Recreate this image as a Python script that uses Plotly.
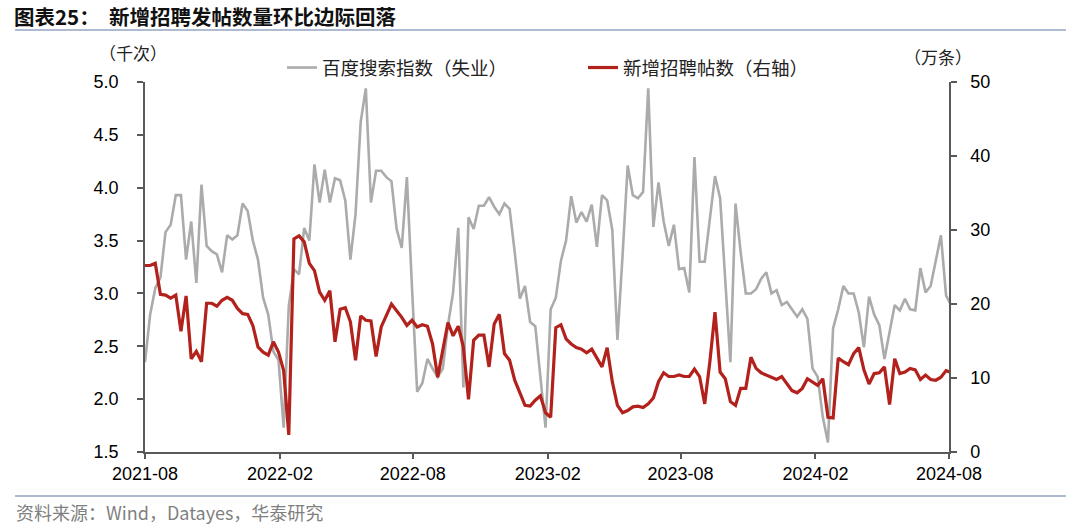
import pandas as pd
import plotly.graph_objects as go

# ---------------- data ----------------
start_date = "2021-08-01"
baidu_index = [
    2.35, 2.80, 3.05, 3.15, 3.58, 3.65, 3.93, 3.93, 3.32, 3.68,
    3.10, 4.03, 3.45, 3.40, 3.37, 3.20, 3.55, 3.51, 3.55, 3.85,
    3.78, 3.50, 3.32, 2.96, 2.80, 2.45, 2.37, 1.73, 2.88, 3.23,
    3.18, 3.62, 3.50, 4.22, 3.86, 4.17, 3.86, 4.09, 4.07, 3.88,
    3.32, 3.75, 4.62, 4.94, 3.86, 4.16, 4.16, 4.10, 4.06, 3.61,
    3.43, 4.10, 3.05, 2.07, 2.15, 2.38, 2.29, 2.21, 2.29, 2.70,
    3.01, 3.62, 2.11, 3.72, 3.61, 3.83, 3.83, 3.91, 3.82, 3.75,
    3.85, 3.80, 3.39, 2.95, 3.07, 2.73, 2.69, 2.22, 1.73, 2.85,
    2.96, 3.31, 3.50, 3.92, 3.67, 3.77, 3.68, 3.84, 3.44, 3.93,
    3.88, 3.60, 2.56, 3.36, 4.21, 3.93, 3.90, 3.96, 4.94, 3.63,
    4.05, 3.68, 3.45, 3.65, 3.23, 3.24, 3.01, 4.29, 3.30, 3.30,
    3.71, 4.11, 3.90, 3.11, 2.35, 3.85, 3.39, 3.00, 3.00, 3.04,
    3.14, 3.20, 3.00, 3.03, 2.89, 2.92, 2.85, 2.78, 2.85, 2.76,
    2.29, 2.21, 1.83, 1.59, 2.67, 2.85, 3.07, 3.00, 3.00, 2.82,
    2.49, 2.97, 2.80, 2.70, 2.38, 2.62, 2.89, 2.84, 2.95, 2.85,
    2.84, 3.24, 3.01, 3.07, 3.31, 3.55, 2.98, 2.89,
]
new_posts = [
    25.2, 25.2, 25.5, 21.3, 21.2, 20.8, 21.2, 16.3, 21.1, 12.6,
    13.6, 12.2, 20.1, 20.1, 19.7, 20.5, 20.9, 20.5, 19.4, 18.7,
    18.6, 17.1, 14.2, 13.5, 13.1, 14.9, 13.5, 11.0, 2.3, 28.8,
    29.2, 28.4, 25.5, 24.5, 21.6, 20.5, 21.8, 14.9, 19.3, 19.5,
    17.6, 12.4, 18.4, 17.8, 17.7, 12.9, 16.9, 18.4, 20.0, 19.1,
    18.2, 17.1, 17.8, 16.9, 17.2, 17.0, 14.6, 10.1, 14.0, 17.5,
    15.7, 17.0, 14.2, 7.1, 15.1, 15.8, 15.8, 11.5, 17.3, 18.6,
    13.3, 12.4, 9.7, 8.1, 6.3, 6.2, 7.0, 7.6, 5.3, 4.7,
    16.8, 17.2, 15.3, 14.6, 14.1, 13.9, 13.4, 13.9, 12.7, 11.5,
    14.1, 9.5, 6.3, 5.3, 5.6, 6.1, 6.2, 6.0, 6.5, 7.3,
    9.5, 10.7, 10.2, 10.2, 10.4, 10.2, 10.2, 11.2, 10.2, 6.5,
    12.2, 18.9, 10.8, 9.9, 6.8, 6.3, 8.6, 8.6, 12.8, 11.3,
    10.7, 10.4, 10.1, 9.8, 10.2, 9.2, 8.3, 8.0, 8.6, 9.9,
    9.4, 9.0, 9.9, 4.7, 4.6, 12.7, 12.2, 11.8, 13.3, 14.1,
    11.1, 9.2, 10.6, 10.7, 11.5, 6.4, 12.6, 10.6, 10.8, 11.3,
    11.1, 9.8, 10.4, 9.8, 9.7, 10.1, 11.0, 10.7,
]
dates = pd.date_range(start=start_date, periods=len(baidu_index), freq="7D")

series_names = ["百度搜索指数（失业）", "新增招聘帖数（右轴）"]
x_ticks = ["2021-08-01", "2022-02-01", "2022-08-01", "2023-02-01",
           "2023-08-01", "2024-02-01", "2024-08-01"]
x_tick_labels = ["2021-08", "2022-02", "2022-08", "2023-02",
                 "2023-08", "2024-02", "2024-08"]
left_range = [1.5, 5.0]
right_range = [0, 50]

title_text = "图表25：  新增招聘发帖数量环比边际回落"
source_text = "资料来源：Wind，Datayes，华泰研究"
left_unit = "（千次）"
right_unit = "（万条）"

# ---------------- layout helpers ----------------
W, H = 1080, 530
ML, MR, MT, MB = 145, 131, 82, 78
PW, PH = W - ML - MR, H - MT - MB


def px(x):
    return (x - ML) / PW


def py(y):
    return (H - MB - y) / PH


CJK = "Noto Sans CJK SC"
LAT = "Liberation Sans, Arial"
AXIS_COLOR = "#595959"
GRAY = "#ABABAB"
RED = "#B3211C"
RULE = "#93A5C1"
NB = "\u00a0"

fig = go.Figure()
fig.add_trace(go.Scatter(
    x=dates, y=baidu_index, name=series_names[0], mode="lines",
    line=dict(color=GRAY, width=2.6), yaxis="y"))
fig.add_trace(go.Scatter(
    x=dates, y=new_posts, name=series_names[1], mode="lines",
    line=dict(color=RED, width=3.2), yaxis="y2"))

tick_font = dict(family=LAT, size=18, color="#000000")
fig.update_layout(
    width=W, height=H,
    margin=dict(l=ML, r=MR, t=MT, b=MB),
    paper_bgcolor="white", plot_bgcolor="white",
    font=dict(family=LAT, size=18, color="#000000"),
    showlegend=True,
    legend=dict(orientation="h", x=px(282), y=py(68), xanchor="left", yanchor="middle",
                font=dict(family=CJK, size=18.5, color="#222222"),
                entrywidth=256, entrywidthmode="pixels",
                bgcolor="rgba(0,0,0,0)", itemclick=False, itemdoubleclick=False),
    xaxis=dict(type="date", range=["2021-08-01", "2024-08-01"],
               tickvals=x_ticks, ticktext=x_tick_labels,
               showgrid=False, zeroline=False,
               showline=True, linecolor=AXIS_COLOR, linewidth=1.5,
               ticks="outside", ticklen=5, tickcolor=AXIS_COLOR, tickwidth=1.5,
               tickfont=tick_font),
    yaxis=dict(range=left_range, dtick=0.5, tickformat=".1f",
               ticksuffix=NB * 3,
               showgrid=False, zeroline=False,
               showline=True, linecolor=AXIS_COLOR, linewidth=1.5,
               ticks="outside", ticklen=6, tickcolor=AXIS_COLOR, tickwidth=1.5,
               tickfont=tick_font),
    yaxis2=dict(range=right_range, dtick=10, overlaying="y", side="right",
                tickprefix=NB * 2,
                showgrid=False, zeroline=False,
                showline=True, linecolor=AXIS_COLOR, linewidth=1.5,
                ticks="outside", ticklen=6, tickcolor=AXIS_COLOR, tickwidth=1.5,
                tickfont=tick_font),
)

# rules above and below the chart
for yy in (30, 496):
    fig.add_shape(type="line", xref="paper", yref="paper",
                  x0=px(15), x1=px(1066), y0=py(yy), y1=py(yy),
                  line=dict(color=RULE, width=1.5))

fig.add_annotation(text="<b>" + title_text + "</b>", xref="paper", yref="paper",
                   x=px(12), y=py(16), xanchor="left", yanchor="middle",
                   showarrow=False, font=dict(family=CJK, size=20.5, color="#111111"))
fig.add_annotation(text=source_text, xref="paper", yref="paper",
                   x=px(14), y=py(512), xanchor="left", yanchor="middle",
                   showarrow=False, font=dict(family=CJK, size=18, color="#7F7F7F"))
fig.add_annotation(text=left_unit, xref="paper", yref="paper",
                   x=px(133), y=py(53), xanchor="center", yanchor="middle",
                   showarrow=False, font=dict(family=CJK, size=17, color="#222222"))
fig.add_annotation(text=right_unit, xref="paper", yref="paper",
                   x=px(938), y=py(56), xanchor="center", yanchor="middle",
                   showarrow=False, font=dict(family=CJK, size=17, color="#222222"))

fig.write_html("out.html", config={"displayModeBar": False},
               post_script="document.body.style.margin='0';")
